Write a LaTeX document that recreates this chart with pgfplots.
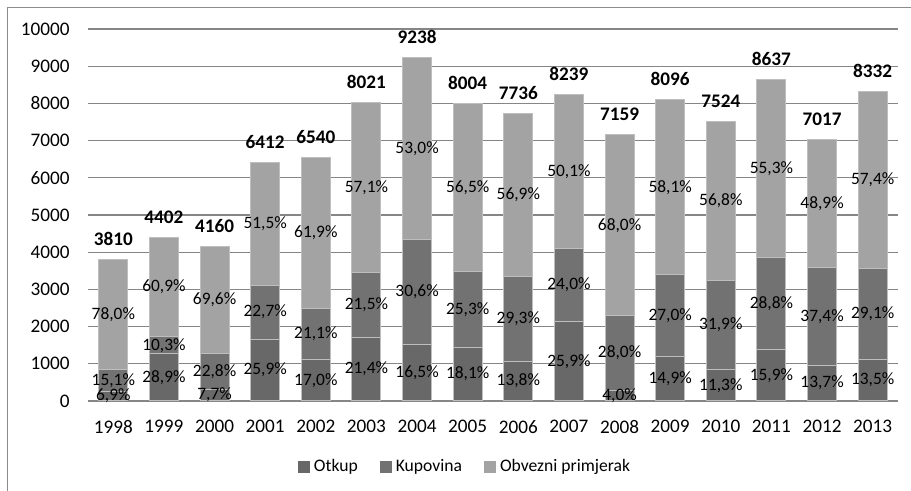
\documentclass[border=0pt]{standalone}
\usepackage{fontspec}
\setmainfont{Carlito}
\usepackage{pgfplots}
\usepackage{pgfplotstable}
\pgfplotsset{compat=1.18}
\definecolor{cO}{HTML}{686868}
\definecolor{cK}{HTML}{727272}
\definecolor{cB}{HTML}{A3A3A3}
\definecolor{cE}{HTML}{BEBEBE}
\definecolor{cG}{HTML}{868686}
\definecolor{cF}{HTML}{8C8C8C}

\pgfplotstableread{
x o k b po pk pb t
0 263 575 2972 6.9 15.1 78.0 3810
1 1272 453 2677 28.9 10.3 60.9 4402
2 320 949 2891 7.7 22.8 69.6 4160
3 1661 1455 3296 25.9 22.7 51.5 6412
4 1112 1380 4048 17.0 21.1 61.9 6540
5 1716 1725 4580 21.4 21.5 57.1 8021
6 1524 2827 4887 16.5 30.6 53.0 9238
7 1449 2025 4530 18.1 25.3 56.5 8004
8 1068 2267 4401 13.8 29.3 56.9 7736
9 2134 1977 4128 25.9 24.0 50.1 8239
10 286 2005 4868 4.0 28.0 68.0 7159
11 1206 2186 4704 14.9 27.0 58.1 8096
12 850 2400 4274 11.3 31.9 56.8 7524
13 1373 2487 4777 15.9 28.8 55.3 8637
14 961 2624 3432 13.7 37.4 48.9 7017
15 1125 2425 4782 13.5 29.1 57.4 8332
}\data

\newcommand\pctlab{\pgfmathprintnumber[fixed,fixed zerofill,precision=1,use comma]{\pgfplotspointmeta}\%}
\newcommand\labfont{\fontsize{8.7}{10}\selectfont}

\begin{document}
\begin{tikzpicture}
\useasboundingbox (0,0) rectangle (455.5pt,245.5pt);
\begin{axis}[
  at={(44pt,45pt)}, anchor=south west,
  scale only axis, width=405pt, height=186pt,
  ybar stacked, bar width=14.5pt,
  xmin=-0.5, xmax=15.5, ymin=0, ymax=10000,
  xtick={0,1,2,3,4,5,6,7,8,9,10,11,12,13,14,15},
  xticklabels={1998,1999,2000,2001,2002,2003,2004,2005,2006,2007,2008,2009,2010,2011,2012,2013},
  ytick={0,1000,2000,3000,4000,5000,6000,7000,8000,9000,10000},
  scaled y ticks=false,
  /pgf/number format/1000 sep={},
  /pgf/number format/assume math mode=true,
  ymajorgrids, grid style={cG, line width=0.6pt},
  axis line style={draw=none},
  tick style={draw=none},
  major tick length=0pt,
  ticklabel style={font=\fontsize{9.6}{11}\selectfont, inner sep=0pt},
  yticklabel shift=9pt,
  xticklabel shift=9.5pt,
  extra y ticks={0}, extra y tick labels={},
  extra y tick style={grid style={cG, line width=1.1pt}},
  legend style={at={(0.4667,-0.1774)}, anchor=center, draw=none, fill=none,
    legend columns=-1, font=\fontsize{8.8}{10}\selectfont,
    /tikz/every even column/.append style={column sep=9pt}},
  legend image code/.code={\fill[#1,draw=none] (0pt,-3pt) rectangle (6pt,3pt);},
  nodes near coords={\pctlab},
  nodes near coords style={anchor=center, font=\labfont, text=black, inner sep=0pt},
]
\addplot[fill=cO, draw=cE, line width=0.5pt, point meta=\thisrow{po}]
  table[x=x,y=o]{\data};
\addplot[fill=cK, draw=cE, line width=0.5pt, point meta=\thisrow{pk}]
  table[x=x,y=k]{\data};
\addplot[fill=cB, draw=cE, line width=0.5pt, point meta=\thisrow{pb}]
  table[x=x,y=b]{\data};
\legend{Otkup,Kupovina,Obvezni primjerak}
\end{axis}
\begin{axis}[
  at={(44pt,45pt)}, anchor=south west,
  scale only axis, width=405pt, height=186pt,
  xmin=-0.5, xmax=15.5, ymin=0, ymax=10000,
  hide axis, clip=false,
  /pgf/number format/1000 sep={},
  /pgf/number format/assume math mode=true,
]
\addplot[only marks, mark=*, mark size=0pt, draw opacity=0, fill opacity=0,
  point meta=\thisrow{t},
  nodes near coords={\pgfmathprintnumber{\pgfplotspointmeta}},
  nodes near coords style={anchor=base, yshift=7pt, font=\bfseries\fontsize{9.6}{11}\selectfont, text=black, text opacity=1, inner sep=0pt}]
  table[x=x,y=t]{\data};
\end{axis}
\draw[cF, line width=0.6pt] (3.75pt,0pt) -- (3.75pt,241.75pt) -- (455.5pt,241.75pt);
\end{tikzpicture}
\end{document}
